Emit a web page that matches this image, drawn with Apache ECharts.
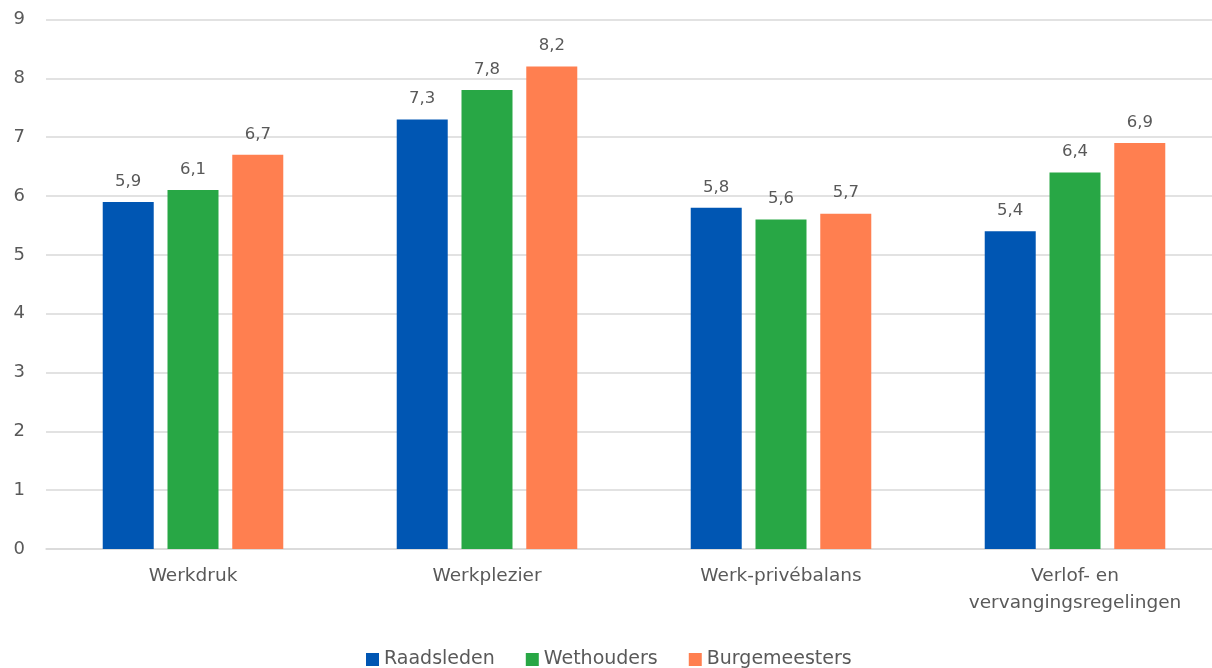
<!DOCTYPE html>
<html>
<head>
<meta charset="utf-8">
<script src="https://cdn.jsdelivr.net/npm/echarts@6/dist/echarts.min.js"></script>
<style>
  html, body { margin: 0; padding: 0; background: #fff; }
  #chart { width: 1212px; height: 668px; }
</style>
</head>
<body>
<div id="chart"></div>
<script>
const categories = ['Werkdruk', 'Werkplezier', 'Werk-privébalans', 'Verlof- en\nvervangingsregelingen']
const seriesNames = ['Raadsleden', 'Wethouders', 'Burgemeesters']
const raadsleden = [5.9, 7.3, 5.8, 5.4]
const wethouders = [6.1, 7.8, 5.6, 6.4]
const burgemeesters = [6.7, 8.2, 5.7, 6.9]
const colors = ['#0056b3', '#28a745', '#ff7f50']

const font = '"DejaVu Sans", sans-serif'
const textColor = '#595959'

function barSeries(name, data, color) {
  return {
    name: name,
    type: 'bar',
    data: data,
    barWidth: 51,
    barGap: '27%',
    itemStyle: { color: color },
    label: {
      show: true,
      position: 'top',
      distance: 12,
      fontFamily: font,
      fontSize: 16.5,
      color: textColor,
      formatter: function (p) {
        return String(p.value).replace('.', ',')
      }
    }
  }
}

const chart = echarts.init(document.getElementById('chart'))
chart.setOption({
  animation: false,
  color: colors,
  grid: { left: 46, width: 1176, top: 19.5, bottom: 119, outerBoundsMode: 'none' },
  legend: {
    data: seriesNames,
    top: 645,
    left: 361,
    itemWidth: 13,
    itemHeight: 13,
    itemGap: 31,
    icon: 'rect',
    textStyle: { fontFamily: font, fontSize: 19, color: textColor, padding: [0, 0, 0, 0] }
  },
  xAxis: {
    type: 'category',
    data: categories,
    axisTick: { show: false },
    axisLine: { lineStyle: { color: '#d9d9d9', width: 1.5 } },
    axisLabel: {
      margin: 14,
      fontFamily: font,
      fontSize: 18.5,
      lineHeight: 27,
      color: textColor,
      interval: 0
    }
  },
  yAxis: {
    type: 'value',
    min: 0,
    max: 9,
    interval: 1,
    axisLine: { show: false },
    axisTick: { show: false },
    splitLine: { lineStyle: { color: '#d9d9d9', width: 1.5 } },
    axisLabel: {
      margin: 21,
      fontFamily: font,
      fontSize: 18,
      color: textColor
    }
  },
  series: [
    barSeries(seriesNames[0], raadsleden, colors[0]),
    barSeries(seriesNames[1], wethouders, colors[1]),
    barSeries(seriesNames[2], burgemeesters, colors[2])
  ]
})
</script>
</body>
</html>
